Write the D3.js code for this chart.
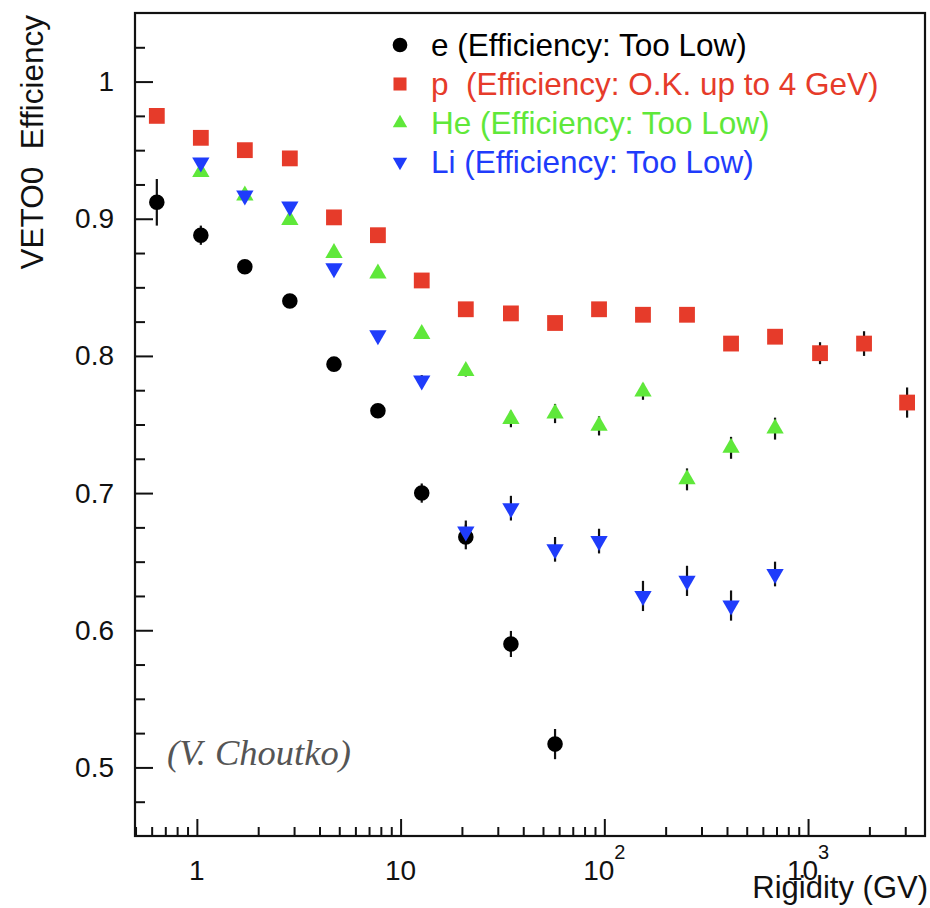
<!DOCTYPE html>
<html><head><meta charset="utf-8">
<script src="https://cdn.jsdelivr.net/npm/d3@7"></script>
<style>body{margin:0;background:#fff}svg{display:block}</style>
</head><body>
<script>
// ---- data ----
const rigidity = [0.636, 1.046, 1.72, 2.86, 4.71, 7.74, 12.7, 20.9, 34.8, 57.3, 94.2, 154.8, 254.6, 418.8, 688.6, 1145, 1883, 3063];
const eEff  = [0.912, 0.888, 0.865, 0.840, 0.794, 0.760, 0.700, 0.668, 0.590, 0.517];
const eErr  = [0.017, 0.007, 0.004, 0.004, 0.004, 0.005, 0.007, 0.009, 0.0095, 0.011];
const pEff  = [0.975, 0.959, 0.950, 0.944, 0.901, 0.888, 0.855, 0.834, 0.831, 0.824, 0.834, 0.830, 0.830, 0.809, 0.814, 0.802, 0.809, 0.766];
const pErr  = [0.002, 0.002, 0.002, 0.002, 0.002, 0.002, 0.002, 0.002, 0.003, 0.003, 0.003, 0.003, 0.004, 0.005, 0.005, 0.008, 0.009, 0.011];
const heEff = [0.934, 0.917, 0.899, 0.875, 0.860, 0.816, 0.789, 0.754, 0.758, 0.749, 0.774, 0.710, 0.733, 0.747];
const heErr = [0.003, 0.003, 0.003, 0.003, 0.003, 0.003, 0.004, 0.006, 0.007, 0.007, 0.006, 0.008, 0.008, 0.008];
const liEff = [0.941, 0.917, 0.909, 0.864, 0.815, 0.782, 0.672, 0.689, 0.659, 0.665, 0.625, 0.636, 0.618, 0.641];
const liErr = [0.003, 0.003, 0.003, 0.003, 0.003, 0.004, 0.008, 0.009, 0.009, 0.009, 0.011, 0.011, 0.011, 0.009];
const legendLabels = ["e (Efficiency: Too Low)", "p  (Efficiency: O.K. up to 4 GeV)", "He (Efficiency: Too Low)", "Li (Efficiency: Too Low)"];
const yTicks = [0.5, 0.6, 0.7, 0.8, 0.9, 1.0];
const xMajor = [1, 10, 100, 1000];
const xLabelBase = ["1", "10", "10", "10"];
const xLabelExp = ["", "", "2", "3"];

// ---- layout ----
const W = 930, H = 908;
const L = 135, R = 925, T = 13, B = 836;
const colors = {e: "#000000", p: "#e63b2a", he: "#5fe83a", li: "#1f3cfb"};

const svg = d3.select("body").append("svg").attr("width", W).attr("height", H);
const x = d3.scaleLog().domain([0.497, 3750]).range([L, R]);
const y = d3.scaleLinear().domain([0.45, 1.05]).range([B, T]);

// minor ticks
const xMinor = [];
[0.1, 1, 10, 100, 1000].forEach(d => { for (let k = 2; k <= 9; k++) { const v = d * k; if (v > 0.497 && v < 3750 && !xMajor.includes(v)) xMinor.push(v); } });
const yMinor = d3.range(0.475, 1.05, 0.025).filter(v => !yTicks.some(t => Math.abs(t - v) < 1e-6));

const font = "'Liberation Sans', Arial, Helvetica, sans-serif";

// axes
const gx = svg.append("g").attr("transform", `translate(0,${B})`);
gx.call(d3.axisBottom(x).tickValues(xMinor).tickSize(-9).tickFormat(""));
const gx2 = svg.append("g").attr("transform", `translate(0,${B})`);
gx2.call(d3.axisBottom(x).tickValues(xMajor).tickSize(-17).tickFormat(""));
const gy = svg.append("g").attr("transform", `translate(${L},0)`);
gy.call(d3.axisLeft(y).tickValues(yMinor).tickSize(-10).tickFormat(""));
const gy2 = svg.append("g").attr("transform", `translate(${L},0)`);
gy2.call(d3.axisLeft(y).tickValues(yTicks).tickSize(-18).tickPadding(21).tickFormat(d => d === 1 ? "1" : d3.format(".1f")(d)));
svg.selectAll(".domain").remove();
svg.selectAll(".tick line").attr("stroke", "#111").attr("stroke-width", 2);
gy2.selectAll("text").attr("font-family", font).attr("font-size", 28).attr("fill", "#111");

// frame
svg.append("rect").attr("x", L).attr("y", T).attr("width", R - L).attr("height", B - T)
  .attr("fill", "none").attr("stroke", "#111").attr("stroke-width", 2.2);

// x labels
const xl = svg.append("g").attr("font-family", font).attr("font-size", 28).attr("fill", "#111");
xMajor.forEach((v, i) => {
  const t = xl.append("text").attr("x", x(v)).attr("y", 880).attr("text-anchor", "middle");
  t.append("tspan").text(xLabelBase[i]);
  if (xLabelExp[i]) t.append("tspan").attr("dy", -21).attr("font-size", 20).text(xLabelExp[i]);
});

// axis titles
svg.append("text").attr("x", 928).attr("y", 898).attr("text-anchor", "end")
  .attr("font-family", font).attr("font-size", 31).attr("fill", "#111").text("Rigidity (GV)");
svg.append("text").attr("transform", "translate(43,15) rotate(-90)").attr("text-anchor", "end")
  .attr("font-family", font).attr("font-size", 31.5).attr("fill", "#111")
  .style("white-space", "pre").text("VETO0  Efficiency");

// credit
svg.append("text").attr("x", 167).attr("y", 765).attr("font-family", "'Liberation Serif', 'Times New Roman', serif")
  .attr("font-style", "italic").attr("font-size", 36.5).attr("fill", "#555").text("(V. Choutko)");

// series
const series = [
  {key: "e", vals: eEff, errs: eErr, off: 0, sym: d3.symbolCircle, size: 190, rot: 0},
  {key: "p", vals: pEff, errs: pErr, off: 0, sym: d3.symbolSquare, size: 250, rot: 0},
  {key: "he", vals: heEff, errs: heErr, off: 1, sym: d3.symbolTriangle, size: 130, rot: 0},
  {key: "li", vals: liEff, errs: liErr, off: 1, sym: d3.symbolTriangle, size: 130, rot: 180},
];
const plot = svg.append("g");
// error bars first
series.forEach(s => {
  plot.append("g").selectAll("line").data(s.vals).join("line")
    .attr("x1", (d, i) => x(rigidity[i + s.off])).attr("x2", (d, i) => x(rigidity[i + s.off]))
    .attr("y1", (d, i) => y(d - s.errs[i])).attr("y2", (d, i) => y(d + s.errs[i]))
    .attr("stroke", "#111").attr("stroke-width", 2.2);
});
series.forEach(s => {
  plot.append("g").selectAll("path").data(s.vals).join("path")
    .attr("d", d3.symbol(s.sym, s.size))
    .attr("transform", (d, i) => `translate(${x(rigidity[i + s.off])},${y(d)}) rotate(${s.rot})`)
    .attr("fill", colors[s.key]);
});

// legend
const legBase = [56, 95, 134, 173];
const leg = svg.append("g");
series.forEach((s, i) => {
  leg.append("path").attr("d", d3.symbol(s.sym, s.key === "p" ? 170 : (s.key === "e" ? 170 : 90)))
    .attr("transform", `translate(400,${legBase[i] - 11}) rotate(${s.rot})`).attr("fill", colors[s.key]);
  leg.append("text").attr("x", 431).attr("y", legBase[i]).attr("font-family", font).attr("font-size", 31.5)
    .attr("fill", colors[s.key]).style("white-space", "pre").text(legendLabels[i]);
});
</script>
</body></html>
